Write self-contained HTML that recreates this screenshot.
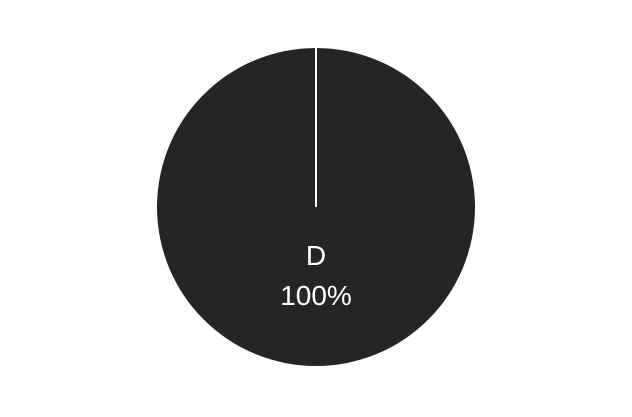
<!DOCTYPE html>
<html>
<head>
<meta charset="utf-8">
<style>
  html,body{margin:0;padding:0;background:#fff;}
  body{width:632px;height:412px;overflow:hidden;}
  svg text{font-family:"Liberation Sans","DejaVu Sans",sans-serif;}
</style>
</head>
<body>
<svg id="chart" width="632" height="412" viewBox="0 0 632 412"></svg>
<script>
const categories = ["D"];
const values = [100];

const svg = document.getElementById('chart');
const NS = 'http://www.w3.org/2000/svg';
const cx = 316, cy = 207, r = 159;
const total = values.reduce((a, b) => a + b, 0);
let angle = -Math.PI / 2;

categories.forEach((cat, i) => {
  const frac = values[i] / total;
  const a0 = angle, a1 = angle + frac * 2 * Math.PI;
  angle = a1;
  let el;
  if (frac >= 0.9999) {
    el = document.createElementNS(NS, 'circle');
    el.setAttribute('cx', cx); el.setAttribute('cy', cy); el.setAttribute('r', r);
  } else {
    el = document.createElementNS(NS, 'path');
    const large = (a1 - a0) > Math.PI ? 1 : 0;
    const d = `M${cx},${cy} L${cx + r * Math.cos(a0)},${cy + r * Math.sin(a0)} A${r},${r} 0 ${large} 1 ${cx + r * Math.cos(a1)},${cy + r * Math.sin(a1)} Z`;
    el.setAttribute('d', d);
  }
  el.setAttribute('fill', '#262425');
  
  
  svg.appendChild(el);

  const ln = document.createElementNS(NS, 'line');
  ln.setAttribute('x1', cx); ln.setAttribute('y1', cy);
  ln.setAttribute('x2', cx + r * Math.cos(a0)); ln.setAttribute('y2', cy + r * Math.sin(a0));
  ln.setAttribute('stroke', '#ffffff'); ln.setAttribute('stroke-width', '2');
  
  
  svg.appendChild(ln);

  const mid = (a0 + a1) / 2;
  const lr = frac >= 0.9999 ? 0 : r * 0.6;
  const lx = cx + lr * Math.cos(mid);
  const ly = frac >= 0.9999 ? cy + 69 : cy + lr * Math.sin(mid);
  const t1 = document.createElementNS(NS, 'text');
  t1.setAttribute('x', lx); t1.setAttribute('y', ly - 20 + 9);
  t1.setAttribute('text-anchor', 'middle'); t1.setAttribute('fill', '#fff');
  t1.setAttribute('font-size', '28');
  t1.textContent = cat;
  
  
  svg.appendChild(t1);
  const t2 = document.createElementNS(NS, 'text');
  t2.setAttribute('x', lx); t2.setAttribute('y', ly + 20 + 9);
  t2.setAttribute('text-anchor', 'middle'); t2.setAttribute('fill', '#fff');
  t2.setAttribute('font-size', '28');
  t2.textContent = Math.round(frac * 100) + '%';
  
  
  svg.appendChild(t2);
});
</script>
</body>
</html>
